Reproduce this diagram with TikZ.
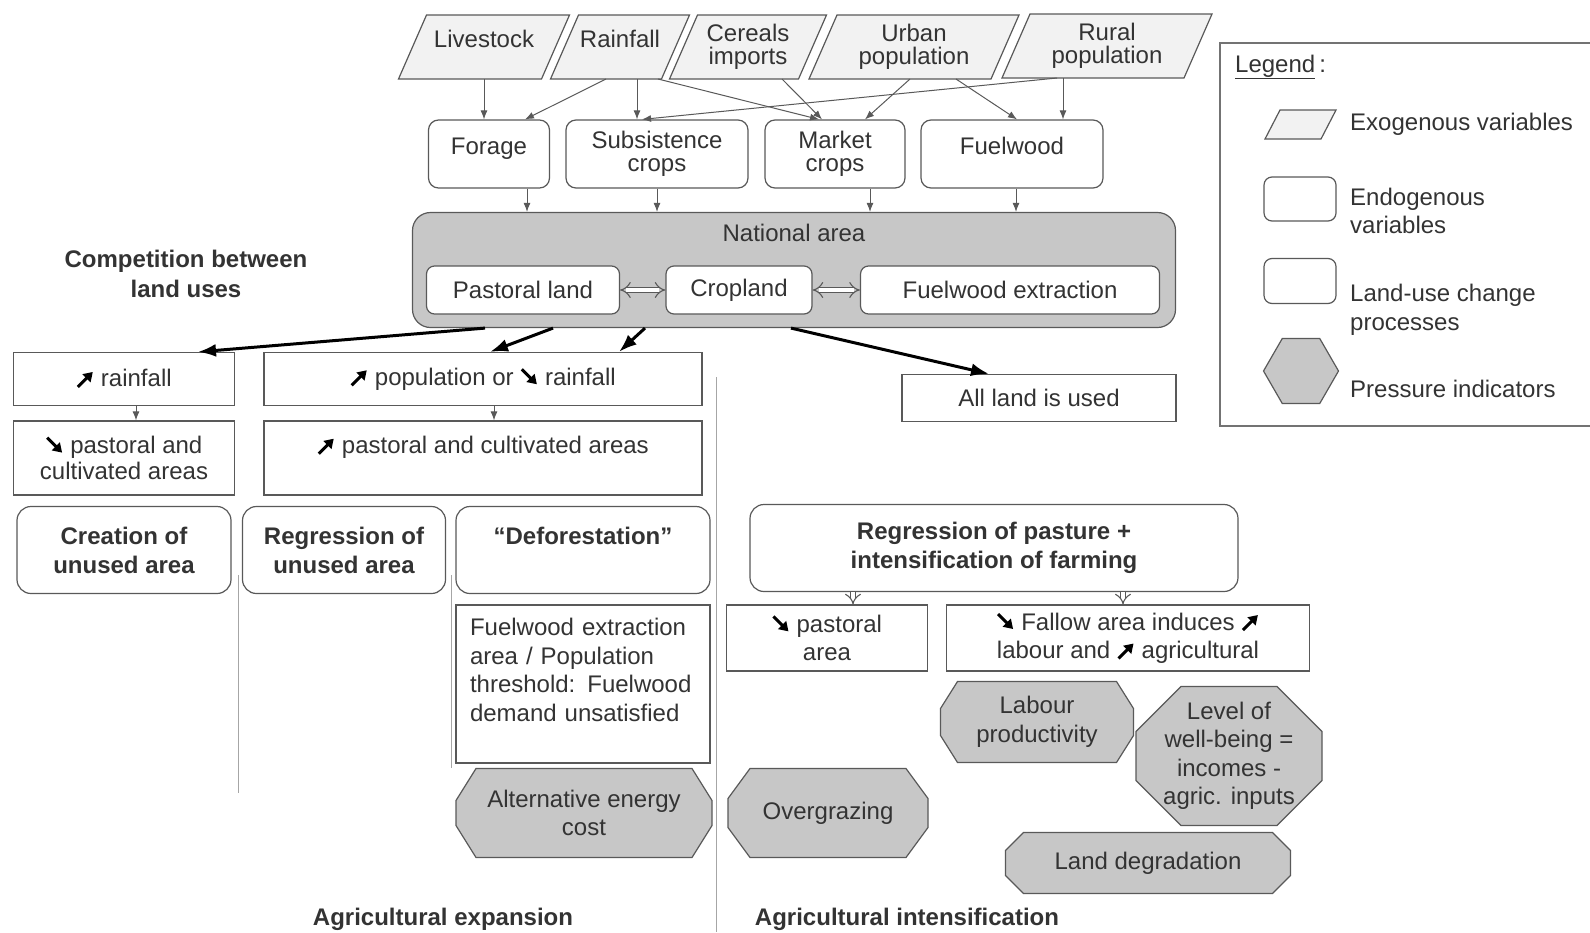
\documentclass[tikz,border=0pt]{standalone}
\usepackage{fontspec}
\setmainfont{Liberation Sans}
\usetikzlibrary{arrows.meta,shapes.geometric,backgrounds}

\colorlet{ink}{black!80}
\colorlet{linegray}{black!65}
\colorlet{fillgray}{black!22}
\colorlet{palegray}{black!5}
\newcommand\upar{\tikz[baseline=0pt]\draw[black, line width=3pt, -{Triangle[length=9pt,width=11pt]}] (0pt,0pt) -- (15pt,15pt);}
\newcommand\dnar{\tikz[baseline=0pt]\draw[black, line width=3pt, -{Triangle[length=9pt,width=11pt]}] (0pt,16pt) -- (15pt,1pt);}

\tikzset{
  every node/.style={font=\fontsize{24}{28.5}\selectfont, text=ink, align=center},
  exo/.style={minimum height=64pt, inner sep=0pt, outer sep=0pt, font=\fontsize{24}{23}\selectfont},
  exoshape/.style={draw=linegray, fill=palegray, line width=1.2pt},
  endo/.style={draw=linegray, fill=white, line width=1.2pt, rounded corners=10pt, minimum height=68pt, inner sep=2pt},
  plain/.style={draw=linegray, fill=white, line width=1.2pt, inner sep=2pt},
  proc/.style={endo, rounded corners=14pt, minimum height=87pt, font=\bfseries\fontsize{24}{29}\selectfont},
  press/.style={inner sep=0pt, outer sep=0pt},
  pressshape/.style={draw=linegray, fill=fillgray, line width=1.2pt},
  arr/.style={draw=linegray, line width=1pt, -{Latex[length=9pt,width=7pt]}},
  bigarr/.style={line width=3pt, -{Latex[length=18pt,width=13pt]}},
  hollow/.style={draw=linegray, line width=1.1pt, double=white, double distance=4.5pt},
  divider/.style={draw=black!35, line width=1pt},
}

\begin{document}
\begin{tikzpicture}[x=1pt,y=-1pt]
\useasboundingbox (0,0) rectangle (1590,932);

% exogenous variables
\node[exo, minimum width=143pt] (livestock) at (484,47) {Livestock\\[-6pt]~};
\node[exo, minimum width=111pt] (rainfall) at (620,47) {Rainfall\\[-6pt]~};
\node[exo, minimum width=129pt] (cereals) at (748,47) {Cereals\\imports};
\node[exo, minimum width=182pt] (urban) at (914,47) {Urban\\population};
\node[exo, minimum width=182pt] (rural) at (1107,46) {Rural\\population};

% endogenous variables
\node[endo, minimum width=121pt] (forage) at (489,154) {Forage\\[-12pt]~};
\node[endo, minimum width=182pt, font=\fontsize{24}{23}\selectfont] (subsist) at (657,154) {Subsistence\\crops};
\node[endo, minimum width=140pt, font=\fontsize{24}{23}\selectfont] (market) at (835,154) {Market\\crops};
\node[endo, minimum width=182pt] (fuelwood) at (1012,154) {Fuelwood\\[-12pt]~};

\draw[arr] (livestock.south) -- (livestock.south |- forage.north);
\draw[arr] ([xshift=-14pt]rainfall.south) -- ([xshift=36pt]forage.north);
\draw[arr] ([xshift=17pt]rainfall.south) -- ([xshift=17pt]rainfall.south |- subsist.north);
\draw[arr] ([xshift=38pt]rainfall.south) -- ([xshift=-16pt]market.north);
\draw[arr] ([xshift=34pt]cereals.south) -- ([xshift=-13pt]market.north);
\draw[arr] ([xshift=-4pt]urban.south) -- ([xshift=30pt]market.north);
\draw[arr] ([xshift=42pt]urban.south) -- ([xshift=5pt]fuelwood.north);
\draw[arr] ([xshift=-44pt]rural.south) -- ([xshift=-44pt]rural.south |- fuelwood.north);
\draw[arr] ([xshift=-50pt]rural.south) -- ([xshift=-15pt]subsist.north);

% national area
\node[draw=linegray, fill=fillgray, line width=1.2pt, rounded corners=18pt, minimum width=763pt,
  minimum height=115pt, label={[anchor=north, yshift=-9pt]north:National area}] (natarea) at (794,270) {};
\node[endo, minimum width=193pt, minimum height=48pt, rounded corners=8pt] (pastoral) at (523,290) {Pastoral land};
\node[endo, minimum width=146pt, minimum height=48pt, rounded corners=8pt] (cropland) at (739,290) {Cropland};
\node[endo, minimum width=299pt, minimum height=48pt, rounded corners=8pt] (fwextract) at (1010,290) {Fuelwood extraction};
\draw[hollow, {Implies}-{Implies}] (pastoral) -- (cropland);
\draw[hollow, {Implies}-{Implies}] (cropland) -- (fwextract);

\draw[arr] ([xshift=38pt]forage.south) -- ([xshift=38pt]forage.south |- natarea.north);
\draw[arr] (subsist.south) -- (subsist.south |- natarea.north);
\draw[arr] ([xshift=35pt]market.south) -- ([xshift=35pt]market.south |- natarea.north);
\draw[arr] ([xshift=4pt]fuelwood.south) -- ([xshift=4pt]fuelwood.south |- natarea.north);

% competition between land uses
\node[font=\bfseries\fontsize{24}{30}\selectfont] (competition) at (186,274) {Competition between\\land uses};

\node[plain, minimum width=221pt, minimum height=53pt] (uprain) at (124,379) {\upar{} rainfall};
\node[plain, minimum width=438pt, minimum height=53pt] (poprain) at (483,379) {\upar{} population or \dnar{} rainfall};
\node[plain, minimum width=221pt, minimum height=74pt, font=\fontsize{24}{26}\selectfont] (dnpast) at (124,458) {\dnar{} pastoral and\\cultivated areas};
\node[plain, minimum width=438pt, minimum height=74pt, font=\fontsize{24}{26}\selectfont] (uppast) at (483,458) {\upar{} pastoral and cultivated areas\\~};
\node[plain, minimum width=274pt, minimum height=47pt] (allland) at (1039,398) {All land is used};

\draw[bigarr] ([xshift=-309pt]natarea.south) -- ([xshift=74pt]uprain.north);
\draw[bigarr] ([xshift=-241pt]natarea.south) -- ([xshift=7pt]poprain.north);
\draw[bigarr] ([xshift=-149pt]natarea.south) -- ([xshift=136pt]poprain.north);
\draw[bigarr] ([xshift=-3pt]natarea.south) -- ([xshift=-50pt]allland.north);
\draw[arr] ([xshift=12pt]uprain.south) -- ([xshift=12pt]dnpast.north);
\draw[arr] ([xshift=11pt]poprain.south) -- ([xshift=11pt]uppast.north);

% land-use change processes
\node[proc, minimum width=214pt] (creation) at (124,550) {Creation of\\unused area};
\node[proc, minimum width=203pt] (regunused) at (344,550) {Regression of\\unused area};
\node[proc, minimum width=254pt] (deforest) at (583,550) {“Deforestation”\\~};
\node[proc, minimum width=488pt] (regpast) at (994,548) {Regression of pasture +\\intensification of farming};

\node[plain, minimum width=254pt, minimum height=158pt, text width=226pt, align=left] (threshold) at (583,684)
  {Fuelwood extraction\\area / Population\\threshold: Fuelwood\\demand unsatisfied\\~};
\node[plain, minimum width=201pt, minimum height=66pt] (pastarea) at (827,638) {\dnar{} pastoral\\area};
\node[plain, minimum width=363pt, minimum height=66pt] (fallow) at (1128,638) {\dnar{} Fallow area induces \upar\\labour and \upar{} agricultural};
\draw[hollow, -{Implies}] ([xshift=-141pt]regpast.south) -- ([xshift=-141pt]regpast.south |- pastarea.north);
\draw[hollow, -{Implies}] ([xshift=129pt]regpast.south) -- ([xshift=129pt]regpast.south |- fallow.north);

% pressure indicators
\node[press, minimum width=256pt, minimum height=89pt] (altenergy) at (584,813) {Alternative energy\\cost};
\node[press, minimum width=200pt, minimum height=89pt] (overgraz) at (828,813) {Overgrazing};
\node[press, minimum width=193pt, minimum height=81pt] (labour) at (1037,722) {Labour\\productivity};
\node[press, minimum width=186pt, minimum height=139pt] (wellbeing) at (1229,756) {Level of\\well-being =\\incomes -\\agric. inputs};
\node[press, minimum width=285pt, minimum height=61pt] (landdeg) at (1148,863) {Land degradation};

\begin{pgfonlayer}{background}
\foreach \n in {livestock,rainfall,cereals,urban,rural}
  \draw[exoshape] ([xshift=-14pt]\n.south west) -- ([xshift=14pt]\n.north west)
    -- ([xshift=14pt]\n.north east) -- ([xshift=-14pt]\n.south east) -- cycle;
\foreach \n/\c/\d in {altenergy/20/32, overgraz/22/30, labour/17/27, wellbeing/45/45, landdeg/18/18}
  \draw[pressshape] ([xshift=\c pt]\n.north west) -- ([xshift=-\c pt]\n.north east)
    -- ([yshift=-\d pt]\n.north east) -- ([yshift=\d pt]\n.south east)
    -- ([xshift=-\c pt]\n.south east) -- ([xshift=\c pt]\n.south west)
    -- ([yshift=\d pt]\n.south west) -- ([yshift=-\d pt]\n.north west) -- cycle;
\end{pgfonlayer}

% dividers and section titles
\draw[divider] (238,575) -- (238,793);
\draw[divider] (451,575) -- (451,768);
\draw[divider] (716,377) -- (716,932);
\node[font=\bfseries\fontsize{24}{28}\selectfont] (expansion) at (443,919) {Agricultural expansion};
\node[font=\bfseries\fontsize{24}{28}\selectfont] (intensif) at (907,919) {Agricultural intensification};

% legend
\draw[draw=black!55, line width=1.2pt] (1220,43) rectangle (1600,426);
\node[anchor=west, inner sep=0] (legtitle) at (1235,67) {\underline{Legend}\,:};
\draw[exoshape] (1265,139) -- (1280,110) -- (1336,110) -- (1321,139) -- cycle;
\node[anchor=west, inner sep=0] (legexotxt) at (1350,124) {Exogenous variables};
\node[endo, minimum width=72pt, minimum height=44pt, rounded corners=8pt] (legendo) at (1300,199) {};
\node[anchor=west, inner sep=0, align=left] (legendotxt) at (1350,211) {Endogenous\\variables};
\node[endo, minimum width=72pt, minimum height=45pt, rounded corners=8pt] (legproc) at (1300,281) {};
\node[anchor=west, inner sep=0, align=left] (legproctxt) at (1350,310) {Land-use change\\processes};
\node[draw=linegray, fill=fillgray, line width=1.2pt, regular polygon, regular polygon sides=6,
  minimum size=75pt, inner sep=0] (legpress) at (1301,371) {};
\node[anchor=west, inner sep=0] (legpresstxt) at (1350,389) {Pressure indicators};
\end{tikzpicture}
\end{document}
